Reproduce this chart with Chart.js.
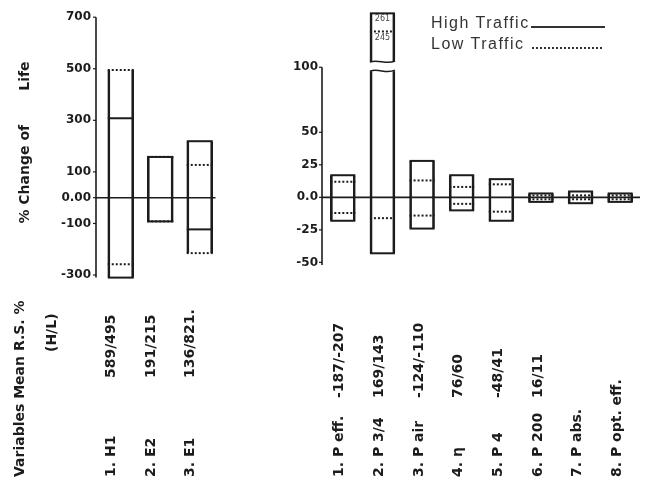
<!DOCTYPE html>
<html><head><meta charset="utf-8">
<script src="https://cdn.jsdelivr.net/npm/chart.js@4.4.1/dist/chart.umd.min.js"></script>
<style>
html,body{margin:0;padding:0;background:#fff;}
#wrap{position:relative;width:653px;height:482px;overflow:hidden;background:#fff;}
#c1{position:absolute;left:0;top:0;width:240px;height:482px;}
#c2{position:absolute;left:240px;top:0;width:413px;height:482px;}
#legend{position:absolute;left:431px;top:12px;font:16px "Liberation Sans",Arial,sans-serif;letter-spacing:1.5px;color:#333;line-height:21px;white-space:nowrap;}
.ln{display:inline-block;height:0;vertical-align:baseline;margin-left:1px;}
.solid{width:74px;border-bottom:2px solid #333;}
.dot{width:70px;border-bottom:2px dotted #333;}
</style></head>
<body><div id="wrap">
<canvas id="c1" width="240" height="482"></canvas>
<canvas id="c2" width="413" height="482"></canvas>
<div id="legend"><div>High Traffic<span class="ln solid"></span></div><div>Low Traffic <span class="ln dot"></span></div></div>
</div>
<script>
// ---------- DATA ----------
const leftCategories = ['1. H1', '2. E2', '3. E1'];
const leftRatios = ['589/495', '191/215', '136/821.'];
const leftHighMax = [308, 158, 219];
const leftHighMin = [-310, -92, -123];
const leftLowMax = [495, 158, 127];
const leftLowMin = [-258, -92, -215];
const leftTicks = [700, 500, 300, 100, 0, -100, -300];

const rightCategories = ['1. P eff.', '2. P 3/4', '3. P air', '4. \u03B7', '5. P 4', '6. P 200', '7. P abs.', '8. P opt. eff.'];
const rightRatios = ['-187/-207', '169/143', '-124/-110', '76/60', '-48/41', '16/11', '', ''];
const rightHighMax = [17, 261, 28, 17, 14, 3, 4.5, 3];
const rightHighMin = [-18, -43, -24, -10, -18, -3.5, -4.5, -3.5];
const rightLowMax = [12, 245, 13, 8, 10, 1.5, 1.5, 1.5];
const rightLowMin = [-12, -16, -14, -5, -11, -1.5, -1.5, -1.5];
const rightTicks = [100, 50, 25, 0, -25, -50];

// broken axis on the right panel: values above BREAK_VALUE go in an upper segment
const BREAK_VALUE = 100;
const GAP_BOTTOM = 97, GAP_TOP = 104;     // axis units of the break gap
const UPPER_VALUE_BASE = 218, UPPER_SCALE = 0.87;

function toAxis(v, broken) {
  if (!broken || v <= BREAK_VALUE) return v;
  return GAP_TOP + (v - UPPER_VALUE_BASE) * UPPER_SCALE;
}

const INK = '#1c1c1c';
const FONT = '"DejaVu Sans", sans-serif';

function drawRot(ctx, t, x, y) {
  ctx.save(); ctx.translate(x, y); ctx.rotate(-Math.PI / 2); ctx.fillText(t, 0, 0); ctx.restore();
}

const axisPlugin = {
  id: 'axisLine',
  beforeDatasetsDraw(chart, args, o) {
    const {ctx, chartArea} = chart; const y = chart.scales.y;
    const x = chartArea.left - o.gap;
    const top = o.topValue != null ? y.getPixelForValue(o.topValue) : chartArea.top;
    ctx.save();
    ctx.strokeStyle = INK; ctx.lineWidth = 1.6;
    ctx.beginPath(); ctx.moveTo(x, top); ctx.lineTo(x, chartArea.bottom); ctx.stroke();
    ctx.lineWidth = 1.2;
    y.ticks.forEach(t => {
      const yy = y.getPixelForValue(t.value);
      ctx.beginPath(); ctx.moveTo(x - 3, yy); ctx.lineTo(x, yy); ctx.stroke();
    });
    const y0 = y.getPixelForValue(0);
    ctx.lineWidth = 1.6;
    ctx.beginPath(); ctx.moveTo(x, y0); ctx.lineTo(chartArea.right - o.zeroEnd, y0); ctx.stroke();
    ctx.restore();
  }
};

const boxPlugin = {
  id: 'boxes',
  afterDatasetsDraw(chart, args, d) {
    const {ctx} = chart; const y = chart.scales.y; const meta = chart.getDatasetMeta(0);
    ctx.save();
    meta.data.forEach((bar, i) => {
      const half = bar.width / 2; const l = bar.x - half, r = bar.x + half;
      const hl = (v, dash) => {
        const yy = y.getPixelForValue(toAxis(v, d.broken));
        ctx.setLineDash(dash); ctx.lineWidth = 2; ctx.strokeStyle = INK;
        ctx.beginPath(); ctx.moveTo(l, yy); ctx.lineTo(r, yy); ctx.stroke();
      };
      hl(d.highMax[i], []); hl(d.highMin[i], []);
      hl(d.lowMax[i], [2, 2]); hl(d.lowMin[i], [2, 2]);
      const top = Math.max(d.highMax[i], d.lowMax[i]);
      if (d.broken && top > BREAK_VALUE) {
        const y1 = y.getPixelForValue(GAP_TOP), y0 = y.getPixelForValue(GAP_BOTTOM);
        ctx.setLineDash([]);
        ctx.fillStyle = '#fff'; ctx.fillRect(l - 3, y1, r - l + 6, y0 - y1);
        ctx.strokeStyle = INK; ctx.lineWidth = 1.5;
        [y1, y0].forEach(yy => {
          ctx.beginPath(); ctx.moveTo(l, yy);
          ctx.bezierCurveTo(l + (r - l) * 0.35, yy - 3, l + (r - l) * 0.65, yy + 3, r, yy - 1);
          ctx.stroke();
        });
        ctx.fillStyle = '#444'; ctx.font = '8px ' + FONT; ctx.textAlign = 'center'; ctx.textBaseline = 'top';
        ctx.fillText(String(d.highMax[i]), bar.x, y.getPixelForValue(toAxis(d.highMax[i], true)) + 2);
        ctx.fillText(String(d.lowMax[i]), bar.x, y.getPixelForValue(toAxis(d.lowMax[i], true)) + 2);
      }
    });
    ctx.restore();
  }
};

const labelPlugin = {
  id: 'catLabels',
  afterDraw(chart, args, o) {
    const {ctx} = chart; const xs = chart.scales.x;
    ctx.save();
    ctx.font = 'bold 14px ' + FONT; ctx.fillStyle = INK; ctx.textAlign = 'left'; ctx.textBaseline = 'middle';
    o.names.forEach((n, i) => {
      const px = xs.getPixelForValue(i) + o.dx;
      drawRot(ctx, n, px, o.nameBottom);
      if (o.ratios[i]) drawRot(ctx, o.ratios[i], px, o.ratioBottom);
    });
    (o.extra || []).forEach(e => drawRot(ctx, e.text, e.x, e.y));
    ctx.restore();
  }
};

function makeChart(canvas, cfg) {
  const lo = cfg.highMin.map((v, i) => Math.min(v, cfg.lowMin[i]));
  const hi = cfg.highMax.map((v, i) => Math.max(v, cfg.lowMax[i]));
  return new Chart(canvas, {
    type: 'bar',
    data: {
      labels: cfg.categories,
      datasets: [{
        data: cfg.categories.map((_, i) => [toAxis(lo[i], cfg.broken), toAxis(hi[i], cfg.broken)]),
        backgroundColor: 'rgba(0,0,0,0)',
        borderColor: INK,
        borderWidth: {left: 2, right: 2, top: 0, bottom: 0},
        borderSkipped: false,
        barThickness: cfg.barThickness
      }]
    },
    options: {
      responsive: false, animation: false, devicePixelRatio: 1,
      layout: {padding: cfg.padding},
      plugins: {
        legend: {display: false}, tooltip: {enabled: false},
        axisLine: cfg.axis,
        boxes: {highMax: cfg.highMax, highMin: cfg.highMin, lowMax: cfg.lowMax, lowMin: cfg.lowMin, broken: cfg.broken},
        catLabels: cfg.labels
      },
      scales: {
        x: {display: false},
        y: {
          min: cfg.yMin, max: cfg.yMax,
          afterBuildTicks: s => { s.ticks = cfg.ticks.map(v => ({value: v})); },
          afterFit: s => { s.width = cfg.yWidth; },
          grid: {display: false, drawTicks: false},
          border: {display: false},
          ticks: {
            autoSkip: false, padding: cfg.tickPad, color: INK,
            font: {family: FONT, size: 12, weight: 'bold'},
            callback: v => v === 0 ? cfg.zeroLabel : String(v)
          },
          title: cfg.title || {display: false}
        }
      }
    },
    plugins: [axisPlugin, boxPlugin, labelPlugin]
  });
}

makeChart(document.getElementById('c1'), {
  categories: leftCategories, highMax: leftHighMax, highMin: leftHighMin, lowMax: leftLowMax, lowMin: leftLowMin,
  ticks: leftTicks, yMin: -310, yMax: 700, zeroLabel: '0.00', yWidth: 101, tickPad: 10,
  padding: {top: 15, bottom: 204.4, left: 0, right: 20.5}, barThickness: 26, broken: false,
  axis: {gap: 5, topValue: null, zeroEnd: 4},
  labels: {names: leftCategories, ratios: leftRatios, dx: -9, nameBottom: 477, ratioBottom: 378,
    extra: [{text: 'Variables Mean R.S. %', x: 20, y: 477}, {text: '(H/L)', x: 52, y: 352}]},
  title: {display: true, text: '  % Change of       Life', color: INK,
    font: {family: FONT, size: 14, weight: 'bold'}, padding: {top: 17, bottom: 0}}
});

makeChart(document.getElementById('c2'), {
  categories: rightCategories, highMax: rightHighMax, highMin: rightHighMin, lowMax: rightLowMax, lowMin: rightLowMin,
  ticks: rightTicks, yMin: -52, yMax: 142.3, zeroLabel: '0.0', yWidth: 83, tickPad: 5,
  padding: {top: 12, bottom: 217, left: 0, right: 13}, barThickness: 25, broken: true,
  axis: {gap: 1, topValue: 100, zeroEnd: 0},
  labels: {names: rightCategories, ratios: rightRatios, dx: -3, nameBottom: 477, ratioBottom: 398, extra: []}
});
</script>
</body></html>
